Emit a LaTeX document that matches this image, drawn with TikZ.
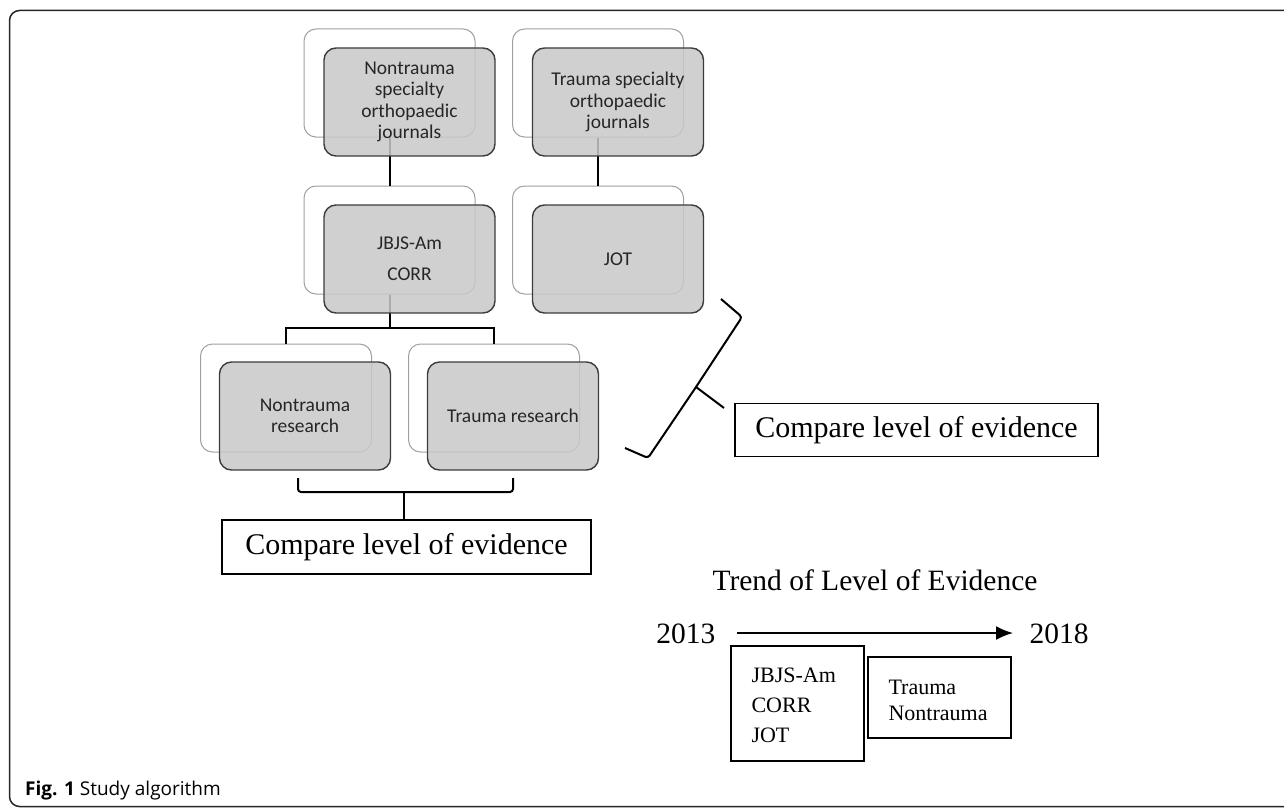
\documentclass[tikz,border=0pt]{standalone}
\usepackage{fontspec}
\usetikzlibrary{arrows.meta}
\setmainfont{Liberation Serif}
\newfontfamily\carlito{Carlito}
\newfontfamily\capfont{Open Sans}
\definecolor{boxgray}{RGB}{200,200,200}
\definecolor{backline}{RGB}{160,160,160}
\definecolor{frontline}{RGB}{60,60,60}
\begin{document}
\begin{tikzpicture}[x=1pt,y=-1pt,
  backbox/.style={draw=backline,line width=1pt,rounded corners=12pt,fill=white,minimum width=171pt,minimum height=108pt,inner sep=0pt},
  frontbox/.style={draw=frontline,line width=1.4pt,rounded corners=12pt,fill=boxgray,fill opacity=0.85,draw opacity=1,text opacity=1,minimum width=171pt,minimum height=108pt,inner sep=0pt,align=center,text=black!85,font=\carlito\fontsize{19.5}{21.5}\selectfont},
  conn/.style={draw=black,line width=2pt},
  brace/.style={draw=black,line width=2pt,rounded corners=3pt},
  cbox/.style={draw=black,line width=1.8pt,inner sep=0pt,font=\fontsize{30}{34}\selectfont},
  tbox/.style={draw=black,line width=1.8pt,inner sep=0pt}]
\useasboundingbox (0,0) rectangle (1284,808);
\clip (0,0) rectangle (1284,808);
\draw[line width=1.5pt,draw=black!85,rounded corners=10pt] (9.5,10.5) rectangle (1300,806.5);

% back boxes
\node[backbox] (b1l) at (389.5,83) {};
\node[backbox] (b1r) at (598,83) {};
\node[backbox] (b2l) at (389.5,240) {};
\node[backbox] (b2r) at (598,240) {};
\node[backbox] (b3l) at (286,398) {};
\node[backbox] (b3r) at (494,398) {};

% connectors
\draw[conn] (b1l.south) -- (b2l.north);
\draw[conn] (b1r.south) -- (b2r.north);
\coordinate (j) at (389.5,328);
\draw[conn] (b2l.south) -- (j);
\draw[conn] (j) -| (b3l.north);
\draw[conn] (j) -| (b3r.north);

% front boxes
\node[frontbox] (f1l) at (409.5,102) {Nontrauma\\specialty\\orthopaedic\\journals};
\node[frontbox] (f1r) at (618,102) {Trauma specialty\\orthopaedic\\journals};
\node[frontbox,font=\carlito\fontsize{19.5}{31}\selectfont] (f2l) at (409.5,259) {JBJS-Am\\CORR};
\node[frontbox] (f2r) at (618,259) {JOT};
\node[frontbox] (f3l) at (305,416) {Nontrauma\\research};
\node[frontbox] (f3r) at (513,416) {Trauma research};

% bottom brace
\draw[brace] (298,478) -- (298,492) -- (513,492) -- (513,478);
\coordinate (bt) at (404,492);
\node[cbox,minimum width=369pt,minimum height=54pt] (c1) at (406.5,547) {Compare level of evidence};
\draw[conn] (bt) -- (c1.north -| bt);

% right brace
\coordinate (rt) at (696,387);
\coordinate (rtip) at (724,408);
\draw[brace] (721,299) -- (742,317) -- (rt) -- (648,458) -- (625,448);
\draw[conn] (rt) -- (rtip);
\node[cbox,minimum width=363pt,minimum height=53pt] (c2) at (916.5,430) {Compare level of evidence};

% trend
\node[font=\fontsize{29.5}{32}\selectfont,anchor=base] (trend) at (875,590) {Trend of Level of Evidence};
\node[font=\fontsize{29.5}{32}\selectfont,anchor=base east] (y1) at (719,643) {2013};
\node[font=\fontsize{29.5}{32}\selectfont,anchor=base west] (y2) at (1026,643) {2018};
\coordinate (as) at (737,633);
\coordinate (ae) at (1013,633);
\draw[line width=1.8pt,-{Latex[length=17pt,width=14pt]}] (as) -- (ae);
\node[tbox,minimum width=133pt,minimum height=115pt] (tb1) at (797.5,703.5) {};
\node[anchor=base west,font=\fontsize{22}{30}\selectfont] (tb1t) at (748,682) {JBJS-Am};
\node[anchor=base west,font=\fontsize{22}{30}\selectfont] (tb1u) at (748,712) {CORR};
\node[anchor=base west,font=\fontsize{22}{30}\selectfont] (tb1v) at (748,742) {JOT};
\node[tbox,minimum width=143pt,minimum height=81pt] (tb2) at (939.5,697.5) {};
\node[anchor=base west,font=\fontsize{22}{26}\selectfont] (tb2t) at (885,694) {Trauma};
\node[anchor=base west,font=\fontsize{22}{26}\selectfont] (tb2u) at (885,720) {Nontrauma};

% caption
\node[anchor=base west,font=\capfont\fontsize{19}{21}\selectfont,inner sep=0pt] (cap) at (25,795) {\textbf{Fig. 1} Study algorithm};
\end{tikzpicture}
\end{document}
